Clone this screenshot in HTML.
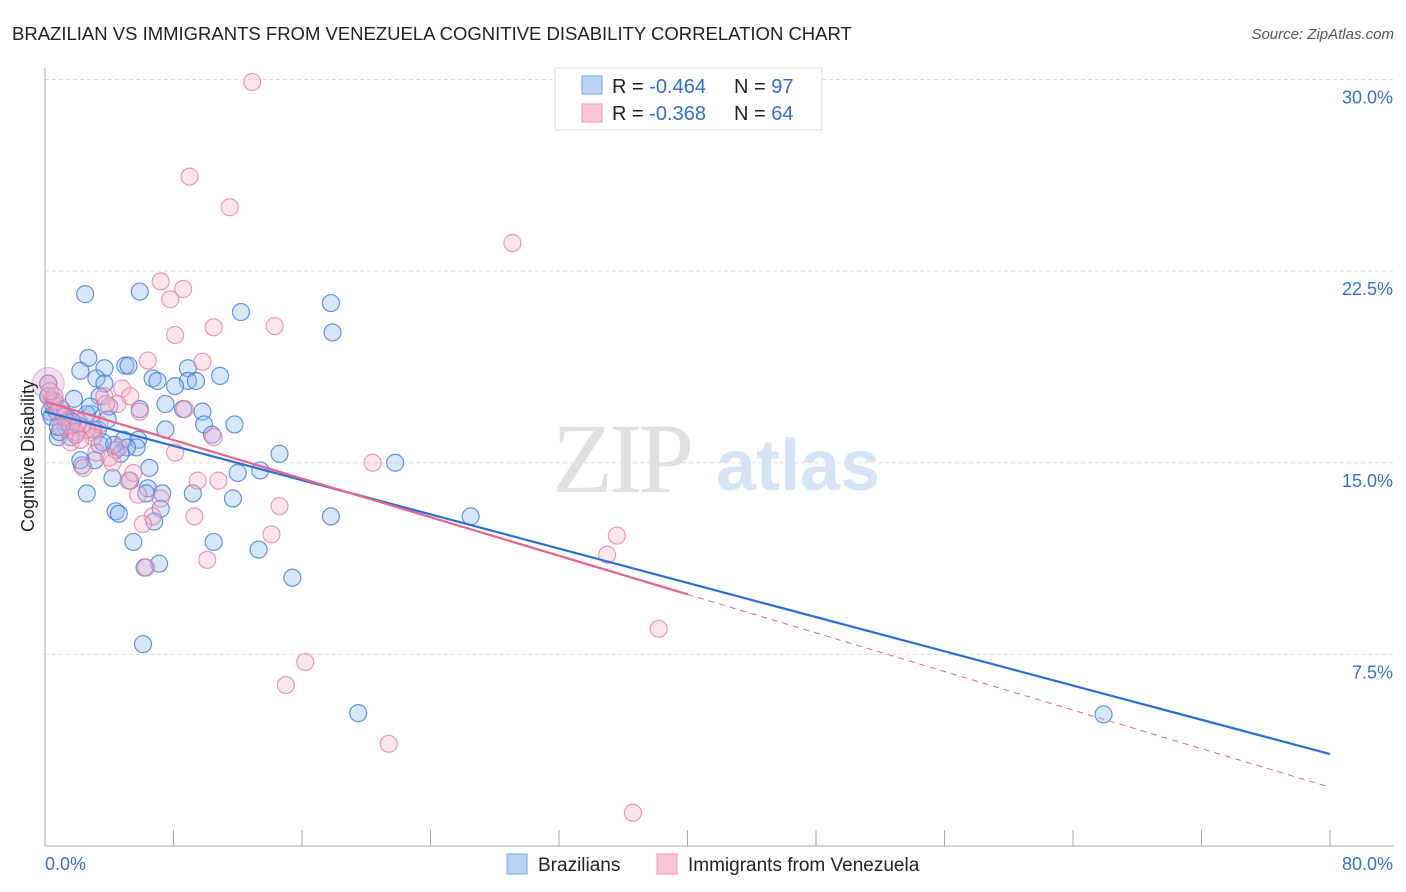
<!DOCTYPE html>
<html><head><meta charset="utf-8">
<style>
body{margin:0;background:#fff;font-family:"Liberation Sans",sans-serif;}
#wrap{position:relative;width:1406px;height:892px;overflow:hidden;}
</style></head>
<body>
<div id="wrap">
<svg id="chart" width="1406" height="892" xmlns="http://www.w3.org/2000/svg">
<text x="12" y="40" font-size="18.5" fill="#222">BRAZILIAN VS IMMIGRANTS FROM VENEZUELA COGNITIVE DISABILITY CORRELATION CHART</text>
<text x="1394" y="39" font-size="15" fill="#555" font-style="italic" text-anchor="end">Source: ZipAtlas.com</text>
<g id="grid"></g>
<g>
<text x="552" y="492" font-size="100" fill="#e0e0e0" font-family="Liberation Serif,serif" letter-spacing="-4">ZIP</text>
<text x="716" y="490" font-size="72" fill="#d5e4f4" font-weight="bold">atlas</text>
</g>
<g id="axes"></g>
<g id="pts"></g>
<g id="lines"></g>
<text transform="translate(34,456) rotate(-90)" font-size="18" fill="#222" text-anchor="middle">Cognitive Disability</text>
<g>
<rect x="555" y="68" width="267" height="62" fill="#fff" stroke="#ddd"/>
<rect x="582" y="76" width="20" height="18" fill="#b8d3f5" stroke="#7aaae6"/>
<rect x="582" y="104" width="20" height="18" fill="#fac6d4" stroke="#f09ab0"/>
<text x="612" y="93" font-size="20" fill="#222">R = <tspan fill="#2f6fd6">-0.464</tspan><tspan x="734">N = </tspan><tspan fill="#2f6fd6">97</tspan></text>
<text x="612" y="120" font-size="20" fill="#222">R = <tspan fill="#2f6fd6"> -0.368</tspan><tspan x="734">N = </tspan><tspan fill="#2f6fd6">64</tspan></text>
</g>
<g>
<rect x="507" y="854" width="20" height="20" fill="#b8d3f5" stroke="#7aaae6"/>
<text x="538" y="871" font-size="19" fill="#222">Brazilians</text>
<rect x="657" y="854" width="20" height="20" fill="#fac6d4" stroke="#f09ab0"/>
<text x="688" y="871" font-size="19" fill="#222">Immigrants from Venezuela</text>
</g>
</svg>
</div>
<script>
const xTicks=[0,8,16,24,32,40,48,56,64,72,80];
const yTicks=[7.5,15,22.5,30];
const blueX=[2.5,5.9,12.2,17.8,17.9,2.7,2.2,3.7,5.0,5.2,3.2,3.7,6.7,7.0,8.9,8.9,9.4,10.9,8.1,0.2,0.2,1.8,3.4,4.0,5.9,7.5,8.6,9.8,0.7,1.2,2.9,3.9,9.9,11.8,1.3,2.3,3.3,7.5,10.4,0.8,1.6,4.9,5.8,3.4,5.7,5.1,4.4,4.7,14.6,3.1,2.3,21.8,6.5,12.0,13.4,4.2,5.3,6.4,6.3,7.3,2.6,9.2,11.7,7.2,4.4,4.6,17.8,26.5,6.8,5.5,10.5,13.3,7.1,6.2,15.4,6.1,19.5,65.9,2.2,0.5,1.0,1.5,2.0,0.3,0.9,1.4,2.6,3.0,0.6,1.1,1.9,4.3,0.4,1.7,2.8,3.6,0.8];
const blueY=[21.6,21.7,20.9,21.25,20.1,19.1,18.6,18.7,18.8,18.8,18.3,18.1,18.3,18.2,18.7,18.2,18.2,18.4,18.0,18.1,17.6,17.5,17.6,17.2,17.1,17.3,17.1,17.0,17.0,16.8,16.9,16.7,16.5,16.5,16.4,16.4,16.3,16.3,16.1,16.0,16.0,15.9,15.9,15.7,15.6,15.6,15.5,15.35,15.35,15.1,14.9,15.0,14.8,14.6,14.7,14.4,14.3,14.0,13.8,13.8,13.8,13.8,13.6,13.2,13.1,13.0,12.9,12.9,12.7,11.9,11.9,11.6,11.05,10.9,10.5,7.9,5.2,5.15,15.1,17.3,17.1,16.7,16.5,17.0,16.2,16.6,16.9,16.3,17.4,16.9,16.1,15.7,16.8,16.6,17.2,15.8,16.4];
const pinkX=[12.9,9.0,11.5,29.1,7.2,8.6,7.8,10.5,14.3,8.1,6.4,9.8,0.2,4.8,3.7,5.3,4.5,5.9,8.7,0.4,0.8,2.1,2.9,10.5,1.6,3.2,8.1,2.4,20.4,9.5,10.8,5.2,5.8,7.2,14.6,9.3,6.7,6.1,14.1,35.6,35.0,10.1,6.3,38.2,16.2,15.0,21.4,36.6,4.0,1.6,3.4,0.9,1.2,2.6,4.6,0.6,3.0,1.9,5.5,2.2,0.3,4.2,1.0,3.8];
const pinkY=[29.9,26.2,25.0,23.6,22.1,21.8,21.4,20.3,20.35,20.0,19.0,18.95,18.1,17.9,17.6,17.6,17.3,17.0,17.1,17.4,17.0,16.6,16.2,16.0,15.8,15.4,15.4,14.8,15.0,14.3,14.3,14.3,13.75,13.6,13.3,12.9,12.9,12.6,12.2,12.15,11.4,11.2,10.9,8.5,7.2,6.3,4.0,1.3,15.2,16.5,16.5,17.2,16.8,16.3,15.6,17.6,16.0,16.2,14.6,15.9,17.8,15.0,16.4,17.3];
const blueFit=[17.0,3.6];
const pinkFit=[17.4,2.3];
const pinkSolidEnd=40;
const X=v=>45+v/80*1285, Y=v=>846-v*25.55;
const NS="http://www.w3.org/2000/svg";
function mk(tag,attrs,parent){const e=document.createElementNS(NS,tag);for(const k in attrs)e.setAttribute(k,attrs[k]);parent.appendChild(e);return e;}
const grid=document.getElementById('grid'),axes=document.getElementById('axes'),pts=document.getElementById('pts'),lines=document.getElementById('lines');
yTicks.forEach(t=>{
 const l=mk('line',{x1:45,x2:1394,y1:Y(t),y2:Y(t),stroke:'#ddd','stroke-dasharray':'4,3'},grid);
 
 
 const tx=mk('text',{x:1393,y:Y(t)+24,'font-size':18,fill:'#3572d4','text-anchor':'end'},axes);
 tx.textContent=t.toFixed(1)+'%';
 
 
});
mk('line',{x1:45,x2:45,y1:68,y2:846,stroke:'#aaa'},axes);
mk('line',{x1:45,x2:1394,y1:846,y2:846,stroke:'#aaa'},axes);
xTicks.forEach(t=>{
 const l=mk('line',{x1:X(t),x2:X(t),y1:830,y2:846,stroke:'#aaa'},axes);
 
 
});
[[0,45,'start'],[80,1393,'end']].forEach(([v,x,a])=>{
 const tx=mk('text',{x:x,y:870,'font-size':18,fill:'#3572d4','text-anchor':a},axes);
 tx.textContent=v.toFixed(1)+'%';
 
 
});
const bigB=mk('circle',{cx:X(0.2),cy:Y(18.1),r:16,fill:'rgba(200,170,215,0.35)',stroke:'rgba(235,120,155,0.5)'},pts);


blueX.forEach((x,i)=>{
 const c=mk('circle',{cx:X(x),cy:Y(blueY[i]),r:8.5,fill:'rgba(140,185,240,0.35)',stroke:'rgba(50,115,220,0.75)','stroke-width':1.2},pts);
 
 
});
pinkX.forEach((x,i)=>{
 const c=mk('circle',{cx:X(x),cy:Y(pinkY[i]),r:8.5,fill:'rgba(248,180,200,0.35)',stroke:'rgba(235,120,155,0.75)','stroke-width':1.2},pts);
 
 
});
const py=x=>pinkFit[0]+(pinkFit[1]-pinkFit[0])*x/80;
const bl=mk('line',{x1:X(0),y1:Y(blueFit[0]),x2:X(80),y2:Y(blueFit[1]),stroke:'#2a6fd6','stroke-width':2.2},lines);


const pl=mk('line',{x1:X(0),y1:Y(pinkFit[0]),x2:X(pinkSolidEnd),y2:Y(py(pinkSolidEnd)),stroke:'#e8648c','stroke-width':2.2},lines);


const pd=mk('line',{x1:X(pinkSolidEnd),y1:Y(py(pinkSolidEnd)),x2:X(80),y2:Y(pinkFit[1]),stroke:'#e8648c','stroke-width':1,'stroke-dasharray':'6,5'},lines);


</script>
</body></html>
